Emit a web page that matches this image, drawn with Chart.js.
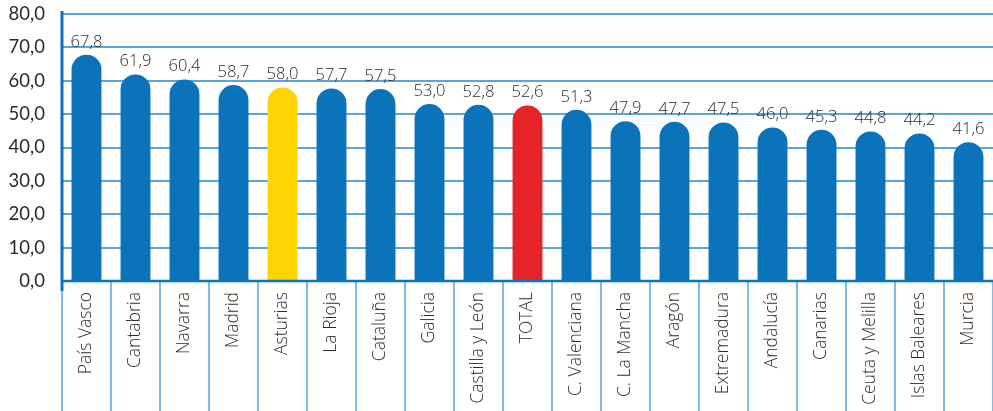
<!DOCTYPE html>
<html>
<head>
<meta charset="utf-8">
<script src="https://cdn.jsdelivr.net/npm/chart.js@4.4.1/dist/chart.umd.min.js"></script>
<style>
	html, body { margin:0; padding:0; background:#fff; }
	#wrap { width:993px; height:411px; }
</style>
</head>
<body>
<div id="wrap"><canvas id="chart" width="993" height="411"></canvas></div>
<script>
	// 지역 (categories)
	const regions = ["País Vasco", "Cantabria", "Navarra", "Madrid", "Asturias", "La Rioja", "Cataluña", "Galicia", "Castilla y León", "TOTAL", "C. Valenciana", "C. La Mancha", "Aragón", "Extremadura", "Andalucía", "Canarias", "Ceuta y Melilla", "Islas Baleares", "Murcia"];
	// 값 (series)
	const values = [67.8, 61.9, 60.4, 58.7, 58.0, 57.7, 57.5, 53.0, 52.8, 52.6, 51.3, 47.9, 47.7, 47.5, 46.0, 45.3, 44.8, 44.2, 41.6];
	// y축 눈금
	const yTicks = [0, 10, 20, 30, 40, 50, 60, 70, 80];

	const BLUE = "#0a73b9";
	const barColors = regions.map(r => r == "Asturias" ? "#ffd400" : (r == "TOTAL" ? "#e42428" : BLUE));
	const fmt = v => v.toFixed(1).replace(".", ",");

	// 막대 위 값 표시 + 하단 구분선
	const extraDraw = {
		id: "extraDraw",
		afterDatasetsDraw(chart) {
			const ctx = chart.ctx;
			const meta = chart.getDatasetMeta(0);
			ctx.save();
			ctx.font = "300 16.5px 'Open Sans'";
			ctx.fillStyle = "#2b2b2b";
			ctx.textAlign = "center";
			ctx.textBaseline = "alphabetic";
			meta.data.forEach((bar, i) => {
				ctx.fillText(fmt(values[i]), bar.x, bar.y - 8);
			});
			ctx.restore();
		},
		afterDraw(chart) {
			const ctx = chart.ctx;
			const xs = chart.scales.x;
			const area = chart.chartArea;
			const step = xs.getPixelForValue(1) - xs.getPixelForValue(0);
			ctx.save();
			ctx.strokeStyle = "#5aa5d9";
			ctx.lineWidth = 1.5;
			for (let i = 0; i <= regions.length; i++) {
				let x = xs.getPixelForValue(0) - step / 2 + i * step;
				ctx.beginPath();
				ctx.moveTo(x, area.bottom);
				ctx.lineTo(x, chart.height);
				ctx.stroke();
			}
			// 0 기준선, 좌측 축
			ctx.strokeStyle = BLUE;
			ctx.lineWidth = 2.5;
			ctx.beginPath();
			ctx.moveTo(area.left, area.bottom);
			ctx.lineTo(area.right, area.bottom);
			ctx.stroke();
			ctx.lineWidth = 3;
			ctx.beginPath();
			ctx.moveTo(area.left, area.top - 3);
			ctx.lineTo(area.left, area.bottom + 10);
			ctx.stroke();
			ctx.restore();
		}
	};

	new Chart(document.getElementById("chart"), {
		type: "bar",
		data: {
			labels: regions,
			datasets: [{
				data: values,
				backgroundColor: barColors,
				borderWidth: 0,
				borderSkipped: "bottom",
				borderRadius: { topLeft: 15, topRight: 15, bottomLeft: 0, bottomRight: 0 },
				barPercentage: 0.61,
				categoryPercentage: 1.0
			}]
		},
		options: {
			responsive: false,
			animation: false,
			layout: { padding: { top: 14, right: 0, left: 0, bottom: 0 } },
			plugins: { legend: { display: false }, tooltip: { enabled: false } },
			scales: {
				x: {
					grid: { display: false },
					border: { display: false },
					ticks: {
						color: "#2b2b2b",
						font: { family: "'Open Sans'", size: 17.5, weight: 300 },
						minRotation: 90, maxRotation: 90,
						padding: 3,
						autoSkip: false
					},
					afterFit(scale) { scale.height = 130; }
				},
				y: {
					min: 0, max: 80,
					afterBuildTicks(scale) { scale.ticks = yTicks.map(v => ({ value: v })); },
					grid: { color: "#5aa5d9", lineWidth: 2, drawTicks: false },
					border: { display: false },
					ticks: {
						color: "#2b2b2b",
						font: { family: "Lato", size: 18.5 },
						padding: 17,
						callback: v => fmt(v)
					},
					afterFit(scale) {
						scale.width = 62;
						scale.paddingTop = 0;
						scale.paddingBottom = 0;
					}
				}
			}
		},
		plugins: [extraDraw]
	});
</script>
</body>
</html>
